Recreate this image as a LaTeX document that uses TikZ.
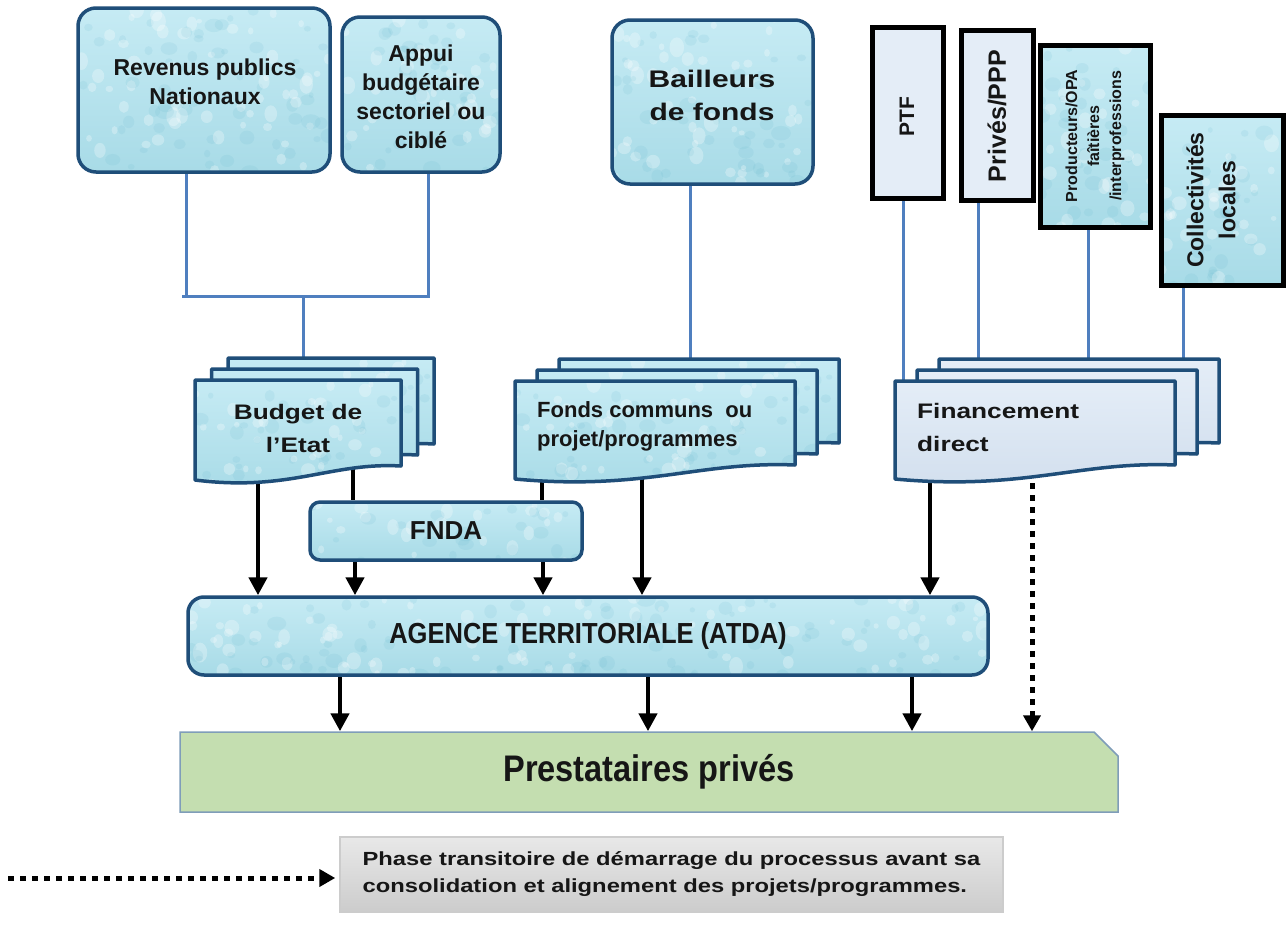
\documentclass[tikz,border=0pt]{standalone}
\usepackage{fontspec}
\setmainfont{Liberation Sans}
\newfontfamily\plainface{Liberation Sans}
\newfontfamily\wideface{Liberation Sans}[FakeStretch=1.25]
\newfontfamily\narrowface{Liberation Sans}[FakeStretch=0.88]
\usetikzlibrary{arrows.meta,backgrounds,shapes.misc,calc}

\definecolor{dropA}{HTML}{C6EBF4}
\definecolor{dropB}{HTML}{A8DBE7}
\definecolor{dropDark}{HTML}{5FB3CB}
\definecolor{navy}{HTML}{1F4E79}
\definecolor{linkblue}{HTML}{4F7FBF}
\definecolor{paleA}{HTML}{E4EDF7}
\definecolor{paleB}{HTML}{D2DFEE}
\definecolor{sage}{HTML}{C4DEB0}
\definecolor{sageedge}{HTML}{7F9DB9}
\definecolor{ink}{HTML}{161616}

\newcommand\fs[2]{\fontsize{#1}{#2}\selectfont}

% one page of a stacked document: style, left x, top y, right x, bottom y at the right edge
\newcommand\docpage[5]{%
  \path[#1] ({#2},{#3}) -- ({#4},{#3}) -- ({#4},{#5})
    .. controls ({(#4)-0.34*((#4)-(#2))},{(#5)-4}) and ({(#2)+0.46*((#4)-(#2))},{(#5)+26})
    .. ({#2},{(#5)+14}) -- cycle;}
% three pages, each one shifted right and up by (dx,dy) behind the front one
\newcommand\docstack[7]{%
  \docpage{#1}{(#2)+2*(#6)}{(#3)-2*(#7)}{(#4)+2*(#6)}{(#5)-2*(#7)}%
  \docpage{#1}{(#2)+(#6)}{(#3)-(#7)}{(#4)+(#6)}{(#5)-(#7)}%
  \docpage{#1}{#2}{#3}{#4}{#5}}

\begin{document}
\begin{tikzpicture}[x=1pt,y=-1pt,
  % faint water-drop texture scattered over a filled shape
  drops/.style={path picture={
      \pgfpointdiff{\pgfpointanchor{path picture bounding box}{south west}}%
                   {\pgfpointanchor{path picture bounding box}{north east}}%
      \pgfgetlastxy{\dw}{\dh}%
      \pgfmathsetseed{#1}%
      \pgfmathtruncatemacro\ndrops{(\dw/28)*(\dh/25)}%
      \foreach \k in {1,...,\ndrops}{%
        \pgfmathsetmacro\u{rnd}\pgfmathsetmacro\v{rnd}%
        \pgfmathsetmacro\rx{2.5+5*rnd}\pgfmathsetmacro\ry{\rx*(0.8+0.6*rnd)}%
        \fill[white, opacity=0.28]
          ($(path picture bounding box.south west)+({\u*\dw},{\v*\dh})$)
          ellipse[x radius=\rx, y radius=\ry];
        \fill[dropDark, opacity=0.12]
          ($(path picture bounding box.south west)+({\v*\dw},{\u*\dh})+(1.5pt,-2pt)$)
          ellipse[x radius=\ry, y radius=\rx];
      }}},
  water/.style={top color=dropA, bottom color=dropB, draw=navy, line width=3.5, drops=#1},
  water/.default=3,
  roundbox/.style={water=#1, rounded corners=18, inner sep=0},
  roundbox/.default=3,
  srcbox/.style={draw=black, line width=5, inner sep=0},
  docwater/.style={water=11, line join=round},
  docpale/.style={top color=paleA, bottom color=paleB, draw=navy, line width=3.5, line join=round},
  txt/.style={inner sep=0, text=ink, align=center},
  conn/.style={draw=linkblue, line width=3},
  flowline/.style={draw=black, line width=4.5},
  flow/.style={flowline, -{Triangle[width=18,length=18]}},
  transit/.style={draw=black, line width=5, dash pattern=on 6 off 6,
                  -{Triangle[width=17,length=16]}},
]
\useasboundingbox (0,0) rectangle (1286,926);

% ---- sources of funds ----
\node[roundbox=5, minimum width=252, minimum height=164] (rev) at (204,90) {};
\node[txt, font=\plainface\bfseries\fs{23}{29}] (revtxt) at (205,82) {Revenus publics\\Nationaux};

\node[roundbox=6, minimum width=158, minimum height=155] (app) at (421,94.5) {};
\node[txt, font=\plainface\bfseries\fs{23}{29}] (apptxt) at (421,97) {Appui\\budgétaire\\sectoriel ou\\ciblé};

\node[roundbox=7, minimum width=201, minimum height=164] (bail) at (712.5,102) {};
\node[txt, font=\wideface\bfseries\fs{24}{33}] (bailtxt) at (712,95) {Bailleurs\\de fonds};

\node[srcbox, fill=paleA, minimum width=71, minimum height=171] (ptf) at (907.5,112.5) {};
\node[txt, rotate=90, font=\plainface\bfseries\fs{21}{25}] (ptftxt) at (907,117) {PTF};

\node[srcbox, fill=paleA, minimum width=72, minimum height=170] (priv) at (997,115) {};
\node[txt, rotate=90, font=\plainface\bfseries\fs{25}{29}] (privtxt) at (997,116) {Privés/PPP};

\node[srcbox, top color=dropA, bottom color=dropB, drops=8, minimum width=110, minimum height=182] (prod) at (1095,136) {};
\node[txt, rotate=90, font=\plainface\bfseries\fs{16}{22}] (prodtxt) at (1095,136) {Producteurs/OPA\\faîtières\\/interprofessions};

\node[srcbox, top color=dropA, bottom color=dropB, drops=9, minimum width=122, minimum height=170] (coll) at (1222,200) {};
\node[txt, rotate=90, font=\plainface\bfseries\fs{23}{32}] (colltxt) at (1211,200) {Collectivités\\locales};

% ---- stacked budget documents ----
\docstack{docwater}{195}{380}{401}{466}{16.5}{11}
\docstack{docwater}{515}{381}{795}{465}{22}{11}
\docstack{docpale}{895}{381}{1175}{465}{22}{11}

\node[txt, minimum height=64, font=\wideface\bfseries\fs{21}{33}] (budget) at (298,428) {Budget de\\l’Etat};
\node[txt, align=left, anchor=west, minimum height=64, font=\plainface\bfseries\fs{22}{29}] (fonds) at (537,426) {Fonds communs~ ou\\projet/programmes};
\node[txt, align=left, anchor=west, minimum height=64, font=\wideface\bfseries\fs{21}{33}] (fin) at (917,427) {Financement\\direct};

% ---- executing bodies ----
\node[roundbox=12, rounded corners=10, minimum width=272, minimum height=58, text=ink,
      font=\plainface\bfseries\fs{26}{30}] (fnda) at (446,531) {FNDA};

\node[roundbox=13, rounded corners=16, minimum width=800, minimum height=78, text=ink,
      font=\narrowface\bfseries\fs{29}{33}] (atda) at (588,636) {AGENCE TERRITORIALE (ATDA)};

\node[chamfered rectangle, chamfered rectangle corners=north east,
      chamfered rectangle xsep=13, chamfered rectangle ysep=11,
      fill=sage, draw=sageedge, line width=1.5, inner sep=0,
      minimum width=938, minimum height=80, text=ink,
      font=\narrowface\bfseries\fs{37}{40}] (prest) at (649,772) {Prestataires privés};

% ---- key ----
\node[draw=white!80!black, line width=1.5, top color=white!91!black, middle color=white!99!black,
      bottom color=white!80!black, minimum width=663, minimum height=75, inner sep=0,
      align=left, text=ink, font=\wideface\bfseries\fs{19}{27}] (note) at (671.5,874.5)
      {Phase transitoire de démarrage du processus avant sa\\consolidation et alignement des projets/programmes.};
\coordinate (keystart) at (8,878);

% ---- connectors, kept under the boxes ----
\begin{scope}[on background layer]
  \fill[white] (0,0) rectangle (1286,926);
  \coordinate (j1) at (186,296);
  \coordinate (j2) at (428,296);
  \coordinate (jm) at (303,296);
  \draw[conn] (rev.south -| j1) -- (j1) -- (j2) -- (app.south -| j2);
  \draw[conn] ([xshift=-4]j1) -- (j1);
  \draw[conn] (jm) -- (budget.north -| jm);
  \draw[conn] (bail.south -| 690,0) -- (fonds.north -| 690,0);
  \draw[conn] (ptf.south -| 903,0) -- (fin.north -| 903,0);
  \draw[conn] (priv.south -| 978,0) -- (fin.north -| 978,0);
  \draw[conn] (prod.south -| 1088,0) -- (fin.north -| 1088,0);
  \draw[conn] (coll.south -| 1183,0) -- (fin.north -| 1183,0);

  \draw[flow] (budget.south -| 258,0) -- (atda.north -| 258,0);
  \draw[flowline] (budget.south -| 353,0) -- (fnda.north -| 353,0);
  \draw[flow] (fnda.south -| 355,0) -- (atda.north -| 355,0);
  \draw[flowline] (fonds.south -| 542,0) -- (fnda.north -| 542,0);
  \draw[flow] (fnda.south -| 543,0) -- (atda.north -| 543,0);
  \draw[flow] (fonds.south -| 642,0) -- (atda.north -| 642,0);
  \draw[flow] (fin.south -| 930,0) -- (atda.north -| 930,0);
  \draw[transit] (fin.south -| 1032,0) -- (prest.north -| 1032,0);

  \draw[flow] (atda.south -| 340,0) -- (prest.north -| 340,0);
  \draw[flow] (atda.south -| 648,0) -- (prest.north -| 648,0);
  \draw[flow] (atda.south -| 912,0) -- (prest.north -| 912,0);

  \draw[transit] (keystart) -- ([xshift=-4]note.west |- keystart);
\end{scope}
\end{tikzpicture}
\end{document}
